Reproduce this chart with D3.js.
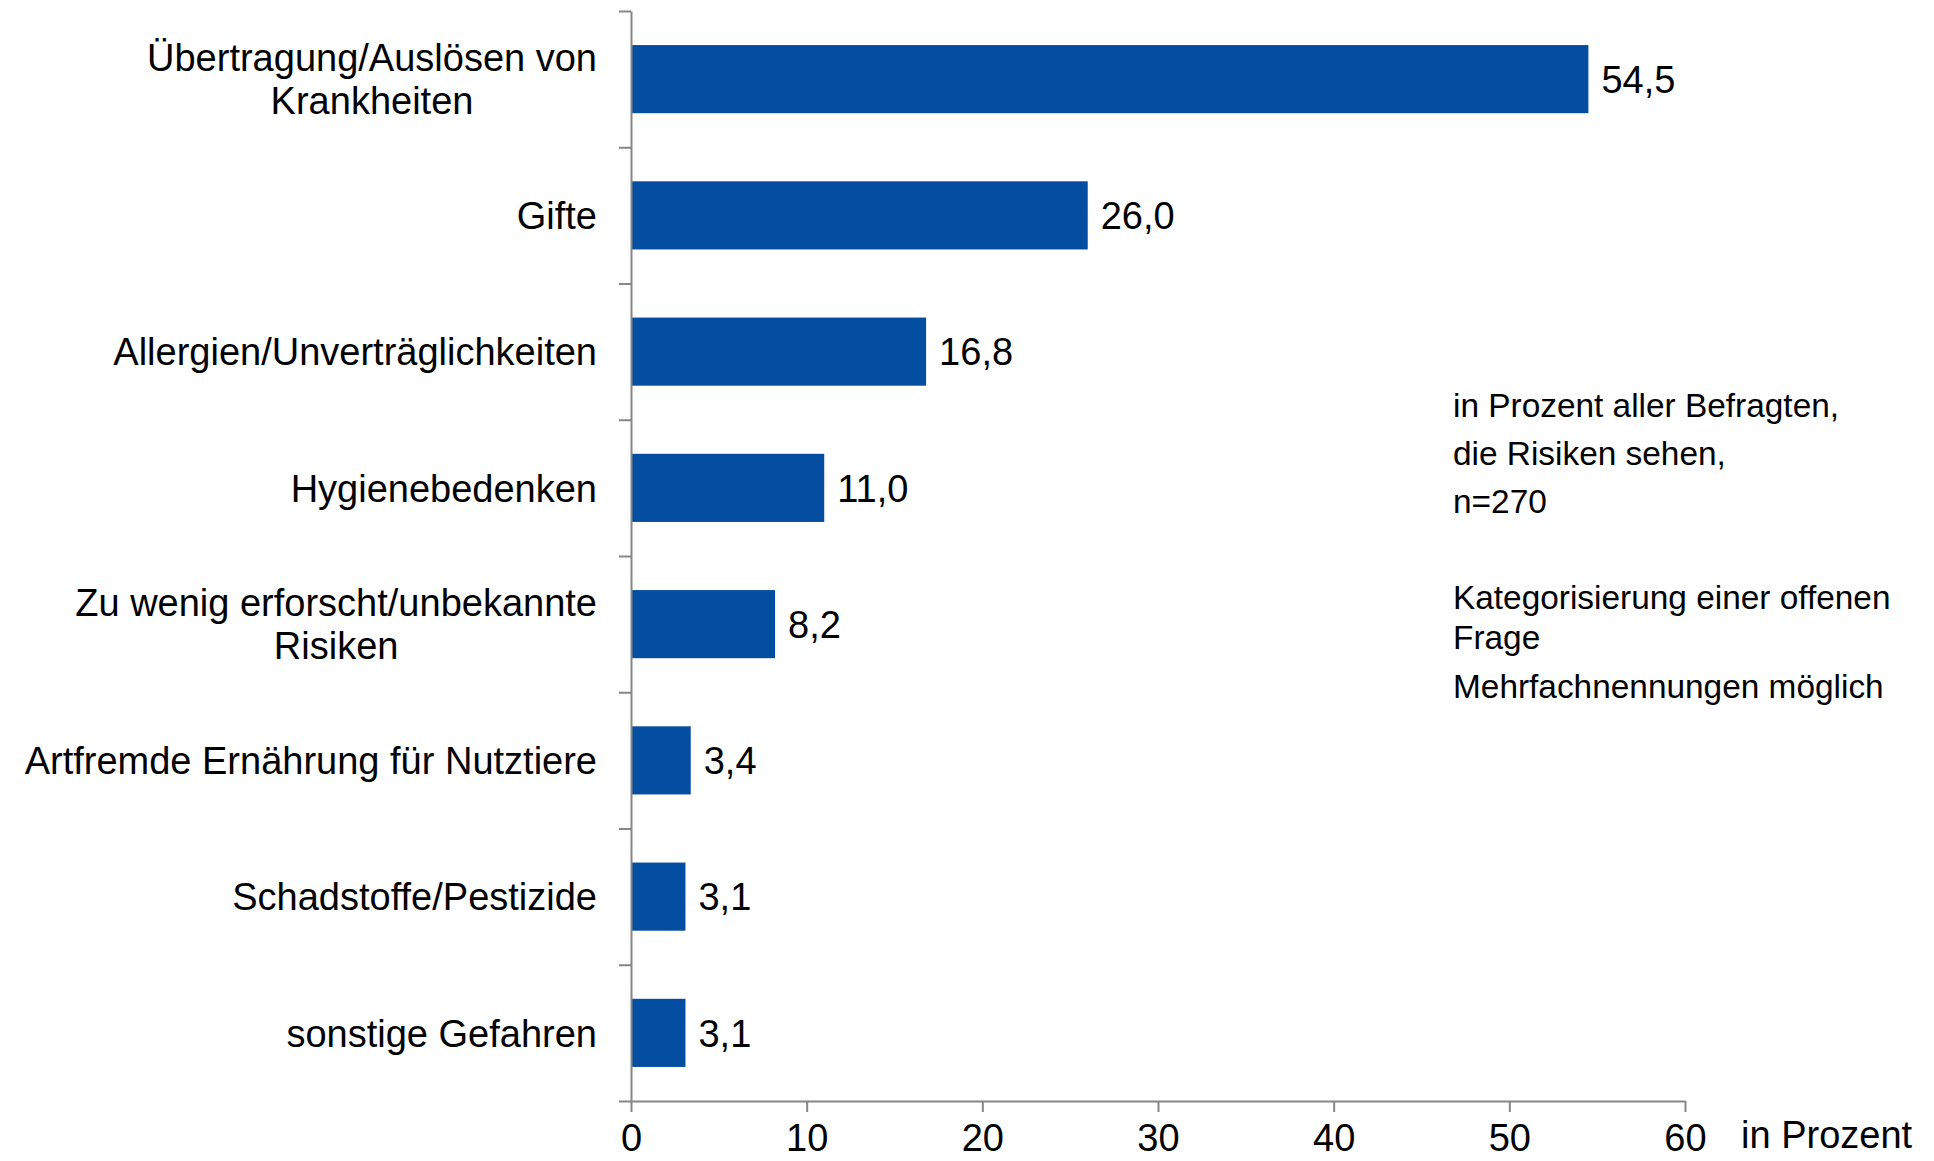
<!DOCTYPE html>
<html lang="de">
  <head>
    <meta charset="utf-8">
    <title>Risiken</title>
    <script type="text/javascript" src="https://cdn.jsdelivr.net/npm/d3@7"></script>
    <style>
    body {
      margin: 0;
      background: #ffffff;
    }
    text {
      font-family: "Liberation Sans", Arial, sans-serif;
      fill: #000000;
    }
    .axis path, .axis line {
      stroke: #868686;
      stroke-width: 2px;
    }
    .bar {
      fill: #044ea2;
    }
    </style>
  </head>
  <body>
    <div id="chart"></div>
    <script type="text/javascript">

      // data
      var categories = [
        ['Übertragung/Auslösen von', 'Krankheiten'],
        ['Gifte'],
        ['Allergien/Unverträglichkeiten'],
        ['Hygienebedenken'],
        ['Zu wenig erforscht/unbekannte', 'Risiken'],
        ['Artfremde Ernährung für Nutztiere'],
        ['Schadstoffe/Pestizide'],
        ['sonstige Gefahren']
      ];
      var values = [54.5, 26.0, 16.8, 11.0, 8.2, 3.4, 3.1, 3.1];
      var xTicks = [0, 10, 20, 30, 40, 50, 60];
      var notes = [
        'in Prozent aller Befragten,',
        'die Risiken sehen,',
        'n=270',
        'Kategorisierung einer offenen',
        'Frage',
        'Mehrfachnennungen möglich'
      ];
      var xTitle = 'in Prozent';

      var dims = { w: 1934, h: 1161, left: 631, right: 1685, top: 11, bottom: 1101 };

      var svg = d3.select('#chart')
        .append('svg')
          .attr('width', dims.w)
          .attr('height', dims.h);

      // scales
      var xScale = d3.scaleLinear()
        .domain([0, 60])
        .range([dims.left, dims.right]);

      var yScale = d3.scaleBand()
        .domain(d3.range(categories.length))
        .range([dims.top, dims.bottom])
        .paddingInner(0.5)
        .paddingOuter(0.25);

      // edges between categories for the left axis ticks
      var yEdge = d3.scaleLinear()
        .domain([0, categories.length])
        .range([dims.top, dims.bottom]);

      // bars
      svg.selectAll('.bar')
        .data(values)
        .enter()
        .append('rect')
          .attr('class', 'bar')
          .attr('x', xScale(0))
          .attr('y', function(d, i) { return yScale(i); })
          .attr('width', function(d) { return xScale(d) - xScale(0); })
          .attr('height', yScale.bandwidth());

      // value labels
      svg.selectAll('.val')
        .data(values)
        .enter()
        .append('text')
          .attr('class', 'val')
          .attr('x', function(d) { return xScale(d) + 13; })
          .attr('y', function(d, i) { return yScale(i) + yScale.bandwidth() / 2; })
          .attr('dy', '0.36em')
          .style('font-size', '38px')
          .text(function(d) { return d.toFixed(1).replace('.', ','); });

      // category labels (wrapped ones are centred on their first line)
      var lineH = 43;
      var labelX = 597;
      svg.selectAll('.cat')
        .data(categories)
        .enter()
        .append('text')
          .attr('class', 'cat')
          .style('font-size', '38px')
          .each(function(lines, i) {
            var cy = yScale(i) + yScale.bandwidth() / 2;
            var first = cy - (lines.length - 1) * lineH / 2;
            var t = d3.select(this);
            var spans = lines.map(function(line, k) {
              return t.append('tspan')
                .attr('text-anchor', 'end')
                .attr('x', labelX)
                .attr('y', first + k * lineH)
                .attr('dy', '0.36em')
                .text(line);
            });
            if (spans.length > 1) {
              var w0 = spans[0].node().getComputedTextLength();
              spans.forEach(function(s) {
                s.attr('text-anchor', 'middle').attr('x', labelX - w0 / 2);
              });
            }
          });

      // axes
      var xAxis = d3.axisBottom(xScale)
        .tickValues(xTicks)
        .tickSize(11)
        .tickSizeOuter(0)
        .tickFormat(d3.format('d'));

      var gx = svg.append('g')
        .attr('class', 'axis')
        .attr('transform', 'translate(0,' + dims.bottom + ')')
        .call(xAxis);
      gx.selectAll('text')
        .attr('y', 50)
        .attr('dy', 0)
        .style('font-size', '38px')
        .style('font-family', '"Liberation Sans", Arial, sans-serif')
        .attr('fill', '#000');

      var yAxis = d3.axisLeft(yEdge)
        .tickValues(d3.range(categories.length + 1))
        .tickSize(12)
        .tickSizeOuter(0)
        .tickFormat('');

      svg.append('g')
        .attr('class', 'axis')
        .attr('transform', 'translate(' + dims.left + ',0)')
        .call(yAxis);

      // axis title
      svg.append('text')
        .attr('x', 1741)
        .attr('y', 1148)
        .style('font-size', '38px')
        .text(xTitle);

      // notes
      var noteY = [417, 465, 513, 609, 649, 698];
      svg.selectAll('.note')
        .data(notes)
        .enter()
        .append('text')
          .attr('class', 'note')
          .attr('x', 1453)
          .attr('y', function(d, i) { return noteY[i]; })
          .style('font-size', '33.4px')
          .text(function(d) { return d; });

    </script>
  </body>
</html>
